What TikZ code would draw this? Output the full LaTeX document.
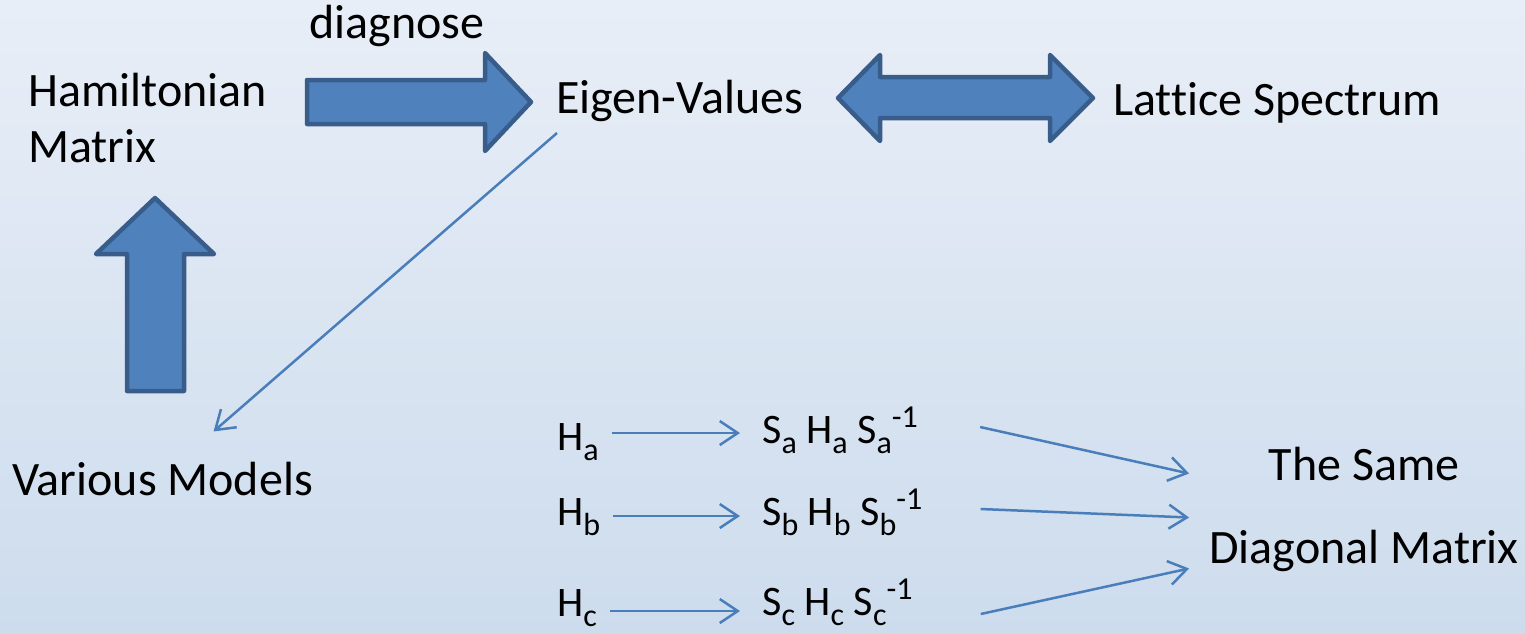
\documentclass[tikz,border=0pt]{standalone}
\usepackage{fontspec}
\setmainfont[Ligatures={NoCommon}]{Carlito}
\usetikzlibrary{arrows.meta}

\definecolor{blockfill}{HTML}{4F81BD}
\definecolor{blockedge}{HTML}{385D8A}
\definecolor{linkblue}{HTML}{4A7EBB}
\definecolor{bgtop}{RGB}{232,238,247}
\definecolor{bgbottom}{RGB}{205,220,237}

\newcommand\lowidx[1]{\raisebox{-10pt}{\fontsize{32}{32}\selectfont #1}}
\newcommand\upidx[1]{\raisebox{16pt}{\fontsize{32}{32}\selectfont #1}}

\begin{document}
\begin{tikzpicture}[x=1pt, y=-1pt,
  big/.style = {font=\fontsize{48}{56}\selectfont, inner sep=0pt},
  small/.style = {font=\fontsize{42}{46}\selectfont, inner sep=0pt},
  block/.style = {fill=blockfill, draw=blockedge, line width=4.5pt, line join=round},
  link/.style = {draw=linkblue, line width=2.5pt, -{Straight Barb[length=18pt, width=24pt]}}]

\fill[top color=bgtop, bottom color=bgbottom] (0, 0) rectangle (1525, 633);
\useasboundingbox (0, 0) rectangle (1525, 633);

\node[big, anchor=north west, align=left] (ham) at (28, 73) {Hamiltonian\\Matrix};
\node[big, anchor=base] (diag) at (397, 38) {diagnose};
\node[big, anchor=base west] (ev) at (556, 113) {Eigen-Values};
\node[big, anchor=base west] (lat) at (1113, 115) {Lattice Spectrum};
\node[big, anchor=base west] (vm) at (12, 495) {Various Models};
\node[big, anchor=north, align=center, font=\fontsize{48}{83}\selectfont] (same) at (1364, 447) {The Same\\Diagonal Matrix};

\node[small, anchor=base west] (ha) at (557, 450) {H\lowidx{a}};
\node[small, anchor=base west] (hb) at (557, 525) {H\lowidx{b}};
\node[small, anchor=base west] (hc) at (557, 616) {H\lowidx{c}};

\node[small, anchor=base west] (sa) at (762, 443) {S\lowidx{a} H\lowidx{a} S\lowidx{a}\upidx{-1}};
\node[small, anchor=base west] (sb) at (762, 525) {S\lowidx{b} H\lowidx{b} S\lowidx{b}\upidx{-1}};
\node[small, anchor=base west] (sc) at (762, 615) {S\lowidx{c} H\lowidx{c} S\lowidx{c}\upidx{-1}};

% block arrows
\draw[block] (307, 80) -- (485, 80) -- (485, 53) -- (531, 102) -- (485, 151) -- (485, 124) -- (307, 124) -- cycle;
\draw[block] (838, 98) -- (880, 55) -- (880, 77) -- (1050, 77) -- (1050, 55) -- (1093, 98)
  -- (1050, 141) -- (1050, 118) -- (880, 118) -- (880, 141) -- cycle;
\draw[block] (155, 198) -- (214, 254) -- (184, 254) -- (184, 391) -- (127, 391) -- (127, 254) -- (96, 254) -- cycle;

\draw[link] ([xshift=1pt, yshift=-20pt]ev.base west) -- ([xshift=51pt, yshift=30pt]vm.north);

\draw[link] ([xshift=13pt, yshift=17pt]ha.base east) -- ([xshift=-22pt, yshift=10pt]sa.base west);
\draw[link] ([xshift=13pt, yshift=9pt]hb.base east) -- ([xshift=-22pt, yshift=9pt]sb.base west);
\draw[link] ([xshift=13pt, yshift=5pt]hc.base east) -- ([xshift=-22pt, yshift=4pt]sc.base west);

\draw[link] ([xshift=62pt, yshift=16pt]sa.base east) -- ([xshift=-20pt, yshift=36pt]same.west);
\draw[link] ([xshift=58pt, yshift=16pt]sb.base east) -- ([xshift=-20pt, yshift=-8pt]same.west);
\draw[link] ([xshift=68pt, yshift=1pt]sc.base east) -- ([xshift=-20pt, yshift=-59pt]same.west);
\end{tikzpicture}
\end{document}
